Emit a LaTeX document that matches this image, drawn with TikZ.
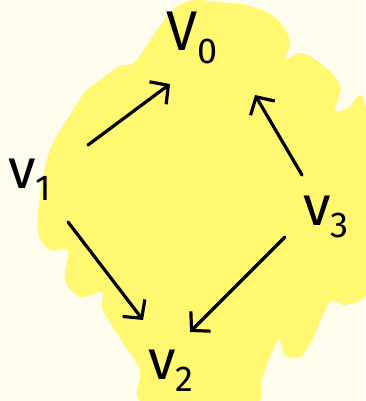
\documentclass[tikz,border=0pt]{standalone}
\usepackage{fontspec}
\setmainfont{Fira Sans}
\usepackage{xcolor}
\definecolor{paper}{RGB}{254, 252, 236}
\definecolor{marker}{RGB}{255, 248, 112}
\usetikzlibrary{arrows.meta,calc}
\newcommand{\vtx}[2]{#1\raisebox{-.22em}{\fontsize{36}{36}\selectfont #2}}

\begin{document}
\begin{tikzpicture}[x = 1pt, y = -1pt,
  vert/.style = {font = \fontsize{56}{56}\selectfont, inner sep = 0pt},
  edge/.style = {-{Straight Barb[length = 13pt, width = 28pt]}, line width = 3.2pt, line cap = round, line join = round}]
\fill[paper] (0,0) rectangle (365,401);
\useasboundingbox (0,0) rectangle (365,401);
% highlighter blob
\fill[marker] plot[smooth cycle, tension = .55] coordinates {
  (135,62) (155,33) (175,8) (195,0) (215,2) (240,4) (262,10) (280,22) (290,42) (285,60)
  (300,53) (320,63) (340,85) (335,110) (348,108) (362,96) (370,140) (370,240) (368,292)
  (345,305) (330,302) (312,340) (300,357) (285,355) (278,340) (262,378) (252,404)
  (145,404) (140,370) (123,343) (103,310) (102,292) (80,297) (65,280) (68,250)
  (50,250) (38,232) (40,195) (50,150) (70,115) (85,92) (100,80) (120,66)};
% vertices
\node[vert] (v0) at (192,38) {\vtx{V}{0}};
\node[vert] (v1) at (30,180) {\vtx{v}{1}};
\node[vert] (v3) at (326,217) {\vtx{v}{3}};
\node[vert] (v2) at (171,371) {\vtx{v}{2}};
% edges
\draw[edge] ([shift = {(58,-35)}]v1.center) -- ([shift = {(-22,46)}]v0.center);
\draw[edge] ([shift = {(-24,-42)}]v3.center) -- ([shift = {(63,57)}]v0.center);
\draw[edge] ([shift = {(38,42)}]v1.center) -- ([shift = {(-28,-51)}]v2.center);
\draw[edge] ([shift = {(-41,20)}]v3.center) -- ([shift = {(19,-39)}]v2.center);
\end{tikzpicture}
\end{document}
